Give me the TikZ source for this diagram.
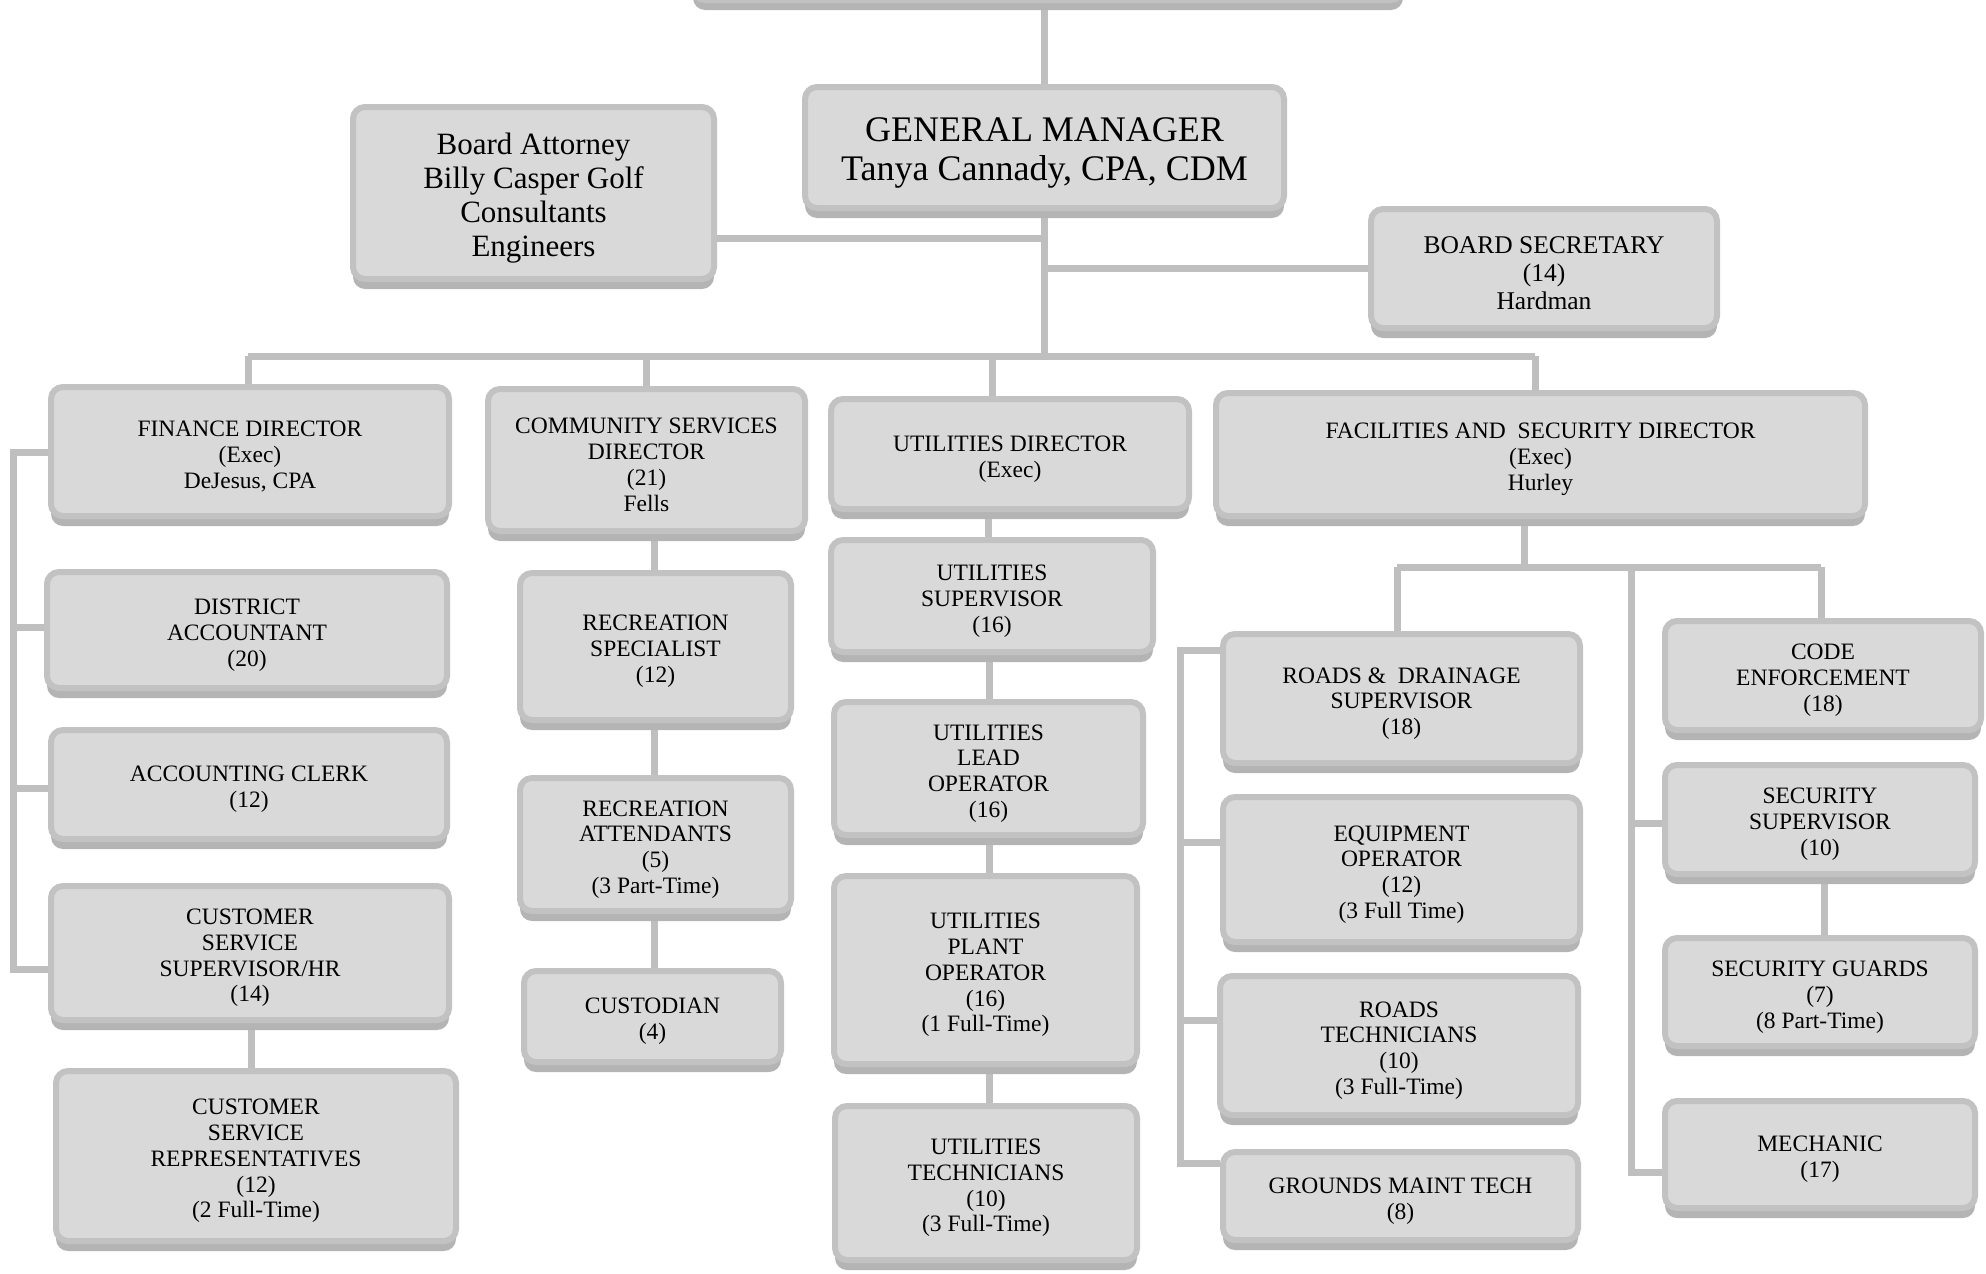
\documentclass[tikz,border=0pt]{standalone}
\usepackage{fontspec}
\setmainfont{Liberation Serif}
\usetikzlibrary{backgrounds,shadows}
\definecolor{boxc}{HTML}{D9D9D9}
\definecolor{bordc}{HTML}{C2C2C2}
\definecolor{shadc}{HTML}{B4B4B4}
\definecolor{linec}{HTML}{BFBFBF}
\tikzset{
  obox/.style={draw=bordc, fill=boxc, line width=6pt, rounded corners=12pt,
    inner sep=0pt,
    drop shadow={shadow xshift=0pt, shadow yshift=-10pt, fill=shadc, opacity=1}},
  otext/.style={align=center, inner sep=0pt, font=\fontsize{23.5}{25.8}\selectfont},
  conn/.style={draw=linec, line width=7pt},
}
\newcommand\obx[7]{%
  \node[obox,minimum width={#4-#2-6},minimum height={#5-#3-13}] (#1) at ({(#2+#4)/2},{(#3+#5-7)/2}) {};
  \node[otext,#6] (#1t) at ([yshift=-5pt]#1.center) {#7};}
\begin{document}
\begin{tikzpicture}[x=1pt,y=-1pt]
\useasboundingbox (0,0) rectangle (1986,1274);
\clip (0,0) rectangle (1986,1274);
\obx{top}{690}{-120}{1406}{10}{}{}
\obx{gm}{802}{84}{1287}{218}{font=\fontsize{36}{39}\selectfont}{GENERAL MANAGER\\Tanya Cannady, CPA, CDM}
\obx{ba}{350}{104}{717}{289}{font=\fontsize{31}{34}\selectfont}{Board Attorney\\Billy Casper Golf\\Consultants\\Engineers}
\obx{bs}{1368}{206}{1720}{338}{font=\fontsize{25.5}{28}\selectfont}{BOARD SECRETARY\\(14)\\Hardman}
\obx{fin}{48}{384}{452}{526}{}{FINANCE DIRECTOR\\(Exec)\\DeJesus, CPA}
\obx{csd}{485}{386}{808}{541}{}{COMMUNITY SERVICES\\DIRECTOR\\(21)\\Fells}
\obx{ud}{828}{396}{1192}{519}{}{UTILITIES DIRECTOR\\(Exec)}
\obx{fac}{1213}{390}{1868}{526}{}{FACILITIES AND\ \ SECURITY DIRECTOR\\(Exec)\\Hurley}
\obx{da}{44}{569}{450}{698}{}{DISTRICT\\ACCOUNTANT\\(20)}
\obx{ac}{48}{727}{450}{849}{}{ACCOUNTING CLERK\\(12)}
\obx{css}{48}{883}{452}{1030}{}{CUSTOMER\\SERVICE\\SUPERVISOR/HR\\(14)}
\obx{csr}{53}{1068}{459}{1251}{}{CUSTOMER\\SERVICE\\REPRESENTATIVES\\(12)\\(2 Full-Time)}
\obx{rs}{517}{570}{794}{730}{}{RECREATION\\SPECIALIST\\(12)}
\obx{ra}{517}{775}{794}{921}{}{RECREATION\\ATTENDANTS\\(5)\\(3 Part-Time)}
\obx{cus}{521}{968}{784}{1072}{}{CUSTODIAN\\(4)}
\obx{us}{828}{537}{1156}{662}{}{UTILITIES\\SUPERVISOR\\(16)}
\obx{lo}{831}{699}{1146}{845}{}{UTILITIES\\LEAD\\OPERATOR\\(16)}
\obx{po}{831}{873}{1140}{1074}{}{UTILITIES\\PLANT\\OPERATOR\\(16)\\(1 Full-Time)}
\obx{ut}{832}{1103}{1140}{1270}{}{UTILITIES\\TECHNICIANS\\(10)\\(3 Full-Time)}
\obx{rd}{1220}{631}{1583}{773}{}{ROADS \&\ \ DRAINAGE\\SUPERVISOR\\(18)}
\obx{eo}{1220}{794}{1583}{952}{}{EQUIPMENT\\OPERATOR\\(12)\\(3 Full Time)}
\obx{rt}{1217}{973}{1581}{1125}{}{ROADS\\TECHNICIANS\\(10)\\(3 Full-Time)}
\obx{gmt}{1220}{1149}{1581}{1250}{}{GROUNDS MAINT TECH\\(8)}
\obx{ce}{1662}{618}{1984}{740}{}{CODE\\ENFORCEMENT\\(18)}
\obx{ss}{1662}{762}{1978}{884}{}{SECURITY\\SUPERVISOR\\(10)}
\obx{sg}{1662}{935}{1978}{1056}{}{SECURITY GUARDS\\(7)\\(8 Part-Time)}
\obx{mech}{1662}{1098}{1978}{1218}{}{MECHANIC\\(17)}
\begin{scope}[on background layer]
  % top level
  \draw[conn] (top.south -| gm.north) -- (gm.north);
  \draw[conn] (gm.south) -- (gm.south |- 0,356);
  \draw[conn] (ba.east |- 0,238) -- (gm.south |- 0,238);
  \draw[conn] (gm.south |- 0,268) -- (bs.west |- 0,268);
  \draw[conn] (248,356) -- (1535,356);
  \draw[conn] (fin.north -| 248,0) -- (248,356);
  \draw[conn] (csd.north) -- (csd.north |- 0,356);
  \draw[conn] (ud.north -| 992,0) -- (992,356);
  \draw[conn] (fac.north -| 1535,0) -- (1535,356);
  % finance
  \draw[conn] (fin.west |- 0,452) -- (13,452) -- (13,969) -- (css.west |- 0,969);
  \draw[conn] (13,627) -- (da.west |- 0,627);
  \draw[conn] (13,788) -- (ac.west |- 0,788);
  \draw[conn] (css.south -| 251,0) -- (csr.north -| 251,0);
  % community
  \draw[conn] (csd.south -| 654,0) -- (rs.north -| 654,0);
  \draw[conn] (rs.south -| 654,0) -- (ra.north -| 654,0);
  \draw[conn] (ra.south -| 654,0) -- (cus.north -| 654,0);
  % utilities
  \draw[conn] (ud.south -| 988,0) -- (us.north -| 988,0);
  \draw[conn] (us.south -| 989,0) -- (lo.north -| 989,0);
  \draw[conn] (lo.south -| 989,0) -- (po.north -| 989,0);
  \draw[conn] (po.south -| 989,0) -- (ut.north -| 989,0);
  % facilities
  \draw[conn] (fac.south -| 1524,0) -- (1524,567);
  \draw[conn] (1397,567) -- (1821,567);
  \draw[conn] (1397,567) -- (rd.north -| 1397,0);
  \draw[conn] (1821,567) -- (ce.north -| 1821,0);
  \draw[conn] (1631,567) -- (1631,1172) -- (mech.west |- 0,1172);
  \draw[conn] (1631,823) -- (ss.west |- 0,823);
  \draw[conn] (ss.south -| 1824,0) -- (sg.north -| 1824,0);
  \draw[conn] (rd.west |- 0,650) -- (1180,650) -- (1180,1163) -- (gmt.west |- 0,1163);
  \draw[conn] (1180,842) -- (eo.west |- 0,842);
  \draw[conn] (1180,1020) -- (rt.west |- 0,1020);
\end{scope}
\end{tikzpicture}
\end{document}
